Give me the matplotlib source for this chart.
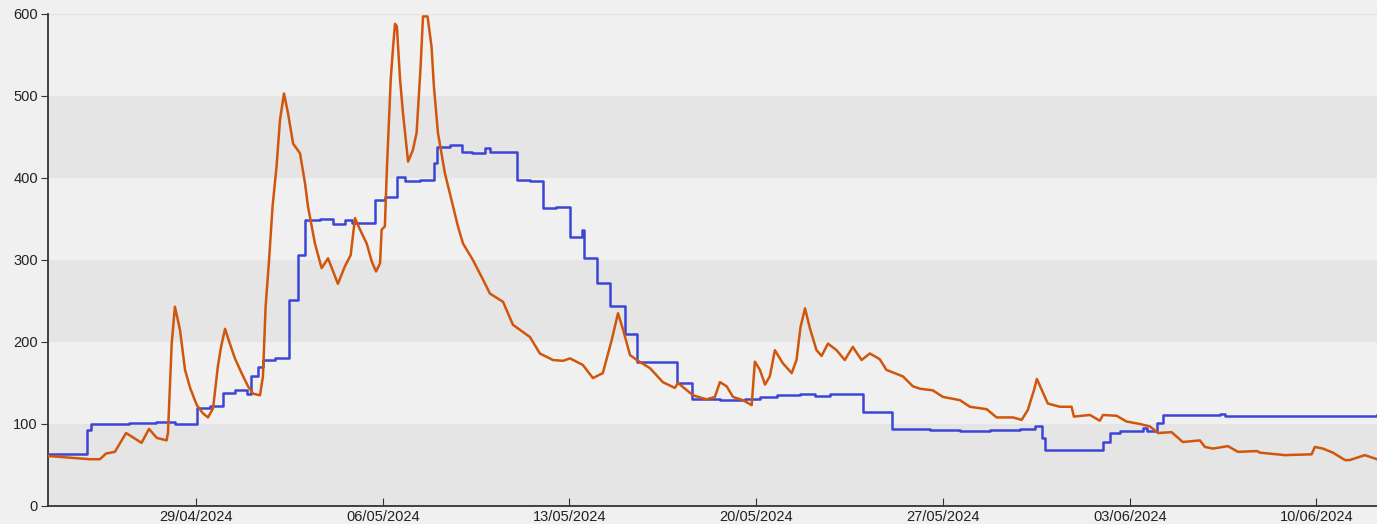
import matplotlib
matplotlib.use("Agg")
import matplotlib.pyplot as plt
import matplotlib.dates as mdates
import pandas as pd

# days counted from 29/04/2024 00:00
start = pd.Timestamp("2024-04-29")

orange_days = [-5.56, -3.97, -3.60, -3.37, -3.04, -2.62, -2.04, -1.76, -1.47, -1.10, -1.05, -0.91,
               -0.79, -0.60, -0.41, -0.22, 0.03, 0.26, 0.45, 0.64, 0.82, 0.94, 1.09, 1.27, 1.46,
               1.71, 1.95, 2.14, 2.40, 2.51, 2.61, 2.74, 2.87, 3.02, 3.15, 3.30, 3.45, 3.64, 3.90,
               4.09, 4.20, 4.46, 4.71, 4.95, 5.32, 5.58, 5.80, 5.96, 6.15, 6.40, 6.59, 6.75, 6.90,
               6.96, 7.08, 7.16, 7.30, 7.38, 7.46, 7.53, 7.65, 7.76, 7.95, 8.13, 8.27, 8.42, 8.51,
               8.68, 8.83, 8.92, 9.07, 9.33, 9.58, 9.82, 10.01, 10.38, 10.76, 11.02, 11.51, 11.88,
               12.52, 12.89, 13.38, 13.76, 14.02, 14.50, 14.88, 15.25, 15.58, 15.82, 16.01, 16.27,
               16.57, 17.02, 17.50, 17.95, 18.07, 18.63, 19.14, 19.45, 19.64, 19.89, 20.13, 20.50,
               20.83, 20.95, 21.14, 21.33, 21.51, 21.70, 22.00, 22.33, 22.51, 22.66, 22.83, 23.01,
               23.26, 23.45, 23.69, 24.01, 24.32, 24.62, 24.95, 25.26, 25.63, 25.88, 26.50, 26.87,
               27.14, 27.62, 28.00, 28.64, 29.01, 29.64, 30.01, 30.62, 30.95, 31.18, 31.41, 31.52,
               31.75, 31.93, 32.38, 32.82, 32.91, 33.51, 33.88, 34.00, 34.51, 34.88, 35.38, 35.76,
               36.06, 36.57, 36.99, 37.63, 37.82, 38.12, 38.68, 39.06, 39.76, 39.89, 40.82, 41.82,
               41.94, 42.24, 42.62, 43.07, 43.25, 43.81, 44.27]
orange_vals = [61, 57, 57, 64, 66, 89, 77, 94, 83, 80, 89, 198,
               243, 215, 166, 144, 123, 113, 108, 119, 170, 194, 216, 198, 180,
               162, 146, 137, 135, 158, 243, 300, 365, 414, 471, 503, 479, 442, 430,
               393, 365, 320, 290, 302, 271, 292, 306, 351, 337, 320, 298, 286, 296,
               337, 341, 414, 520, 556, 588, 585, 520, 479, 420, 434, 455, 536, 597,
               597, 560, 511, 455, 406, 373, 341, 320, 300, 276, 259, 249, 221,
               206, 186, 178, 177, 180, 172, 156, 162, 202, 235, 215, 184,
               177, 168, 151, 144, 150, 135, 130, 133, 151, 146, 133, 129,
               123, 176, 166, 148, 158, 190, 174, 162, 178, 218, 241, 217,
               190, 183, 198, 190, 178, 194, 178, 186, 179, 166, 158, 146,
               143, 141, 133, 129, 121, 118, 108, 108, 105, 117, 141, 155,
               138, 125, 121, 121, 109, 111, 104, 111, 110, 103, 100, 97,
               89, 90, 78, 80, 72, 70, 73, 66, 67, 65, 62, 63,
               72, 70, 65, 56, 56, 62, 57]

blue_days = [-5.56, -4.09, -3.94, -2.5, -1.5, -0.8, 0.04, 0.52, 1.00, 1.46, 1.90, 2.05, 2.32, 2.51,
             2.96, 3.50, 3.81, 4.09, 4.65, 5.13, 5.58, 5.85, 6.71, 7.08, 7.52, 7.83, 8.40, 8.92,
             9.03, 9.52, 9.96, 10.34, 10.83, 11.02, 12.02, 12.52, 13.02, 13.49, 14.02, 14.47, 14.54,
             15.02, 15.52, 16.08, 16.55, 18.03, 18.58, 19.64, 20.58, 21.14, 21.78, 22.64, 23.20,
             23.76, 25.01, 26.08, 27.51, 28.64, 29.76, 30.88, 31.45, 31.70, 31.82, 34.00, 34.26,
             34.63, 35.49, 35.65, 36.01, 36.24, 38.38, 38.57, 44.27]
blue_vals = [63, 93, 100, 101, 102, 100, 119, 122, 138, 141, 137, 158, 170, 178,
             180, 251, 306, 349, 350, 344, 349, 345, 373, 377, 401, 396, 398, 418,
             438, 440, 432, 430, 437, 432, 398, 396, 363, 365, 328, 336, 302,
             272, 244, 210, 176, 150, 131, 129, 130, 133, 135, 137, 134,
             136, 114, 94, 93, 92, 93, 94, 97, 83, 68, 78, 89,
             91, 95, 92, 101, 111, 112, 110, 111]

orange_t = start + pd.to_timedelta(orange_days, unit="D")
blue_t = start + pd.to_timedelta(blue_days, unit="D")

plt.rcParams["font.family"] = ["Liberation Sans", "DejaVu Sans"]

fig = plt.figure(figsize=(13.77, 5.24), dpi=100, facecolor="#f0f0f0")
ax = fig.add_axes([0.0346, 0.0344, 0.9654, 0.9389])
ax.set_facecolor("#f0f0f0")

for lo in (0, 200, 400):
    ax.axhspan(lo, lo + 100, color="#e5e5e5", lw=0, zorder=0)
ax.axhline(600, color="#e2e2e2", lw=1, zorder=0)

ax.step(blue_t, blue_vals, where="post", color="#3c46d4", lw=1.8, zorder=3)
ax.plot(orange_t, orange_vals, color="#d0560c", lw=1.8, zorder=4)

ax.set_ylim(0, 600)
ax.set_xlim(orange_t[0], orange_t[-1])
ax.set_yticks(range(0, 601, 100))
ax.xaxis.set_major_locator(mdates.WeekdayLocator(byweekday=mdates.MO))
ax.xaxis.set_major_formatter(mdates.DateFormatter("%d/%m/%Y"))

for side in ("top", "right"):
    ax.spines[side].set_visible(False)
for side in ("left", "bottom"):
    ax.spines[side].set_color("#333333")
    ax.spines[side].set_linewidth(1.3)

ax.tick_params(axis="y", direction="out", length=5, color="#333333", pad=2,
               labelsize=10.5, labelcolor="#222222")
ax.tick_params(axis="x", direction="in", length=6, color="#333333", pad=3,
               labelsize=10.5, labelcolor="#222222")

fig.savefig("out.png", dpi=100, facecolor=fig.get_facecolor())
